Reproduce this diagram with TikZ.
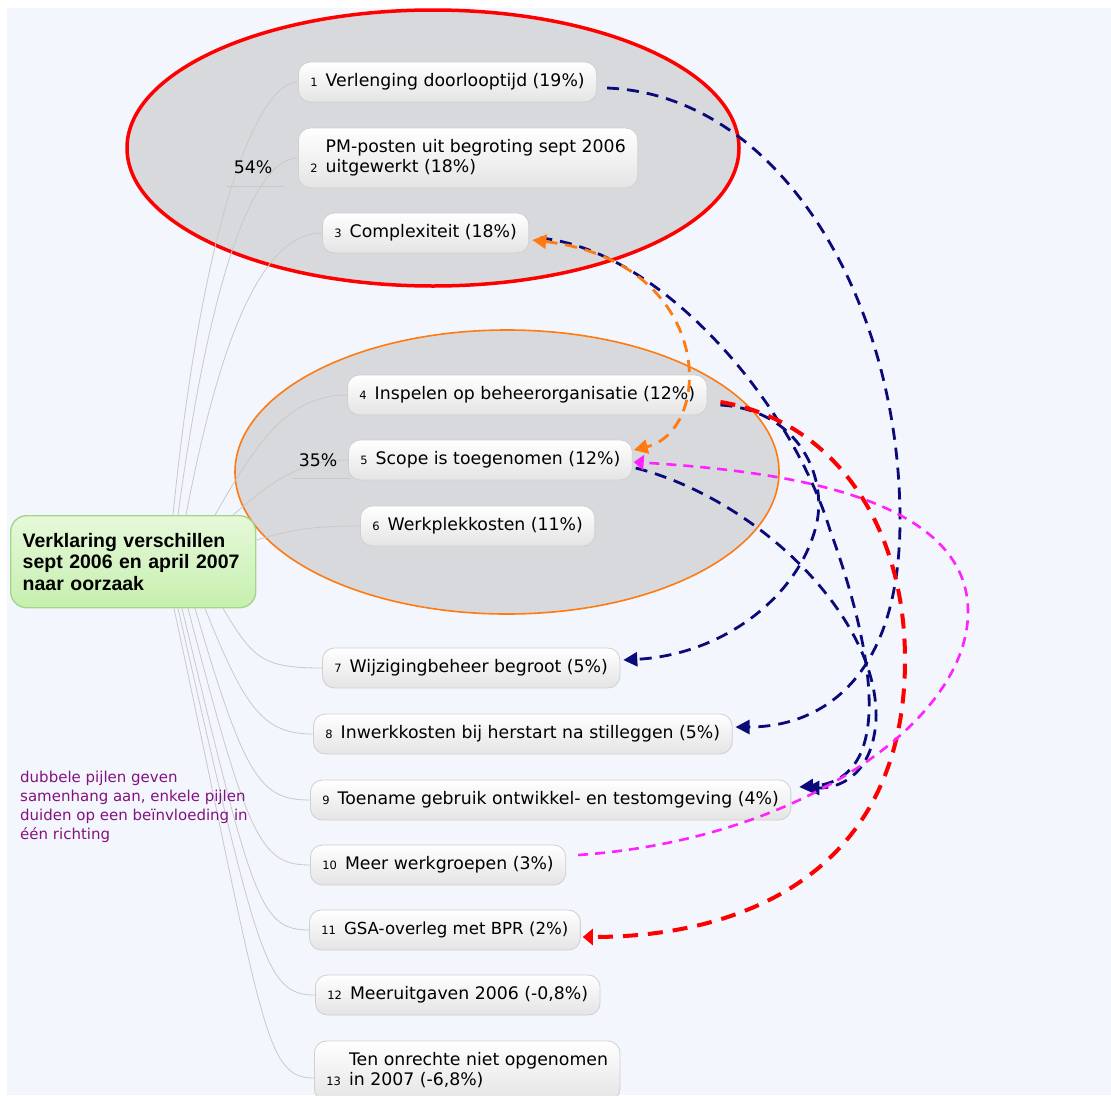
\documentclass[tikz,border=0pt]{standalone}
\usepackage{fontspec}
\setmainfont{DejaVu Sans}
\newfontfamily\rootfont{Liberation Sans}
\usetikzlibrary{arrows.meta}
\definecolor{mapback}{HTML}{F3F6FD}
\definecolor{blobfill}{HTML}{D8D9DD}
\definecolor{branchgray}{HTML}{C9C9C9}
\definecolor{itemedge}{HTML}{CFCFCF}
\definecolor{itemshade}{HTML}{E4E4E4}
\definecolor{rootfilltop}{HTML}{E6F9DA}
\definecolor{rootfillbot}{HTML}{C6EFAE}
\definecolor{rootedge}{HTML}{A2D68A}
\definecolor{linknavy}{HTML}{0A0A78}
\definecolor{linkorange}{HTML}{FF7A10}
\definecolor{linkmagenta}{HTML}{FF22FF}
\definecolor{linkred}{HTML}{FF0000}
\definecolor{legendpurple}{HTML}{84127E}
\newcommand{\itemnum}[1]{{\fontsize{11.5}{13}\selectfont #1}\hspace{8pt}}

\begin{document}
\begin{tikzpicture}[
  x=1pt,
  y=-1pt,
  every node/.style={font=\fontsize{17.3}{20}\selectfont, text=black},
  item/.style={draw=itemedge, line width=0.8pt, rounded corners=12pt,
    top color=white, bottom color=itemshade, inner xsep=12pt,
    inner ysep=10pt, minimum height=40pt, anchor=west},
  rootbox/.style={draw=rootedge, line width=1.4pt, rounded corners=16pt,
    top color=rootfilltop, bottom color=rootfillbot, inner xsep=12pt,
    text width=221pt, minimum height=92pt, align=left, anchor=north west,
    font=\rootfont\bfseries\fontsize{19.5}{21.5}\selectfont},
  branch/.style={branchgray, line width=0.8pt},
  share/.style={inner sep=1pt},
  link/.style={line width=2.8pt, dash pattern=on 12pt off 8pt},
  navylink/.style={link, linknavy, -{Triangle[length=14pt, width=14pt]}},
  orangelink/.style={link, linkorange,
    {Triangle[length=14pt, width=14pt]}-{Triangle[length=14pt, width=14pt]}},
  redlink/.style={linkred, line width=4pt, dash pattern=on 15pt off 10pt,
    -{Triangle[length=10pt, width=16pt]}},
  magentalink/.style={linkmagenta, line width=2.6pt,
    dash pattern=on 10pt off 7pt, -{Triangle[length=10pt, width=15pt]}}
]
  % ---- page and background ---------------------------------------------
  \useasboundingbox (0,0) rectangle (1111,1095);
  \fill[white] (0,0) rectangle (1111,1095);
  \fill[mapback] (7,8) rectangle (1111,1095);

  % ---- the two groups --------------------------------------------------
  \filldraw[blobfill, draw=linkred, line width=3.5pt]
    (433,148) ellipse [x radius=306, y radius=138];
  \filldraw[blobfill, draw=linkorange, line width=1.6pt]
    (507,472) ellipse [x radius=272, y radius=142];

  % ---- central topic ---------------------------------------------------
  \node[rootbox] (root) at (10,515)
    {Verklaring verschillen\\sept 2006 en april 2007\\naar oorzaak};

  % ---- the causes ------------------------------------------------------
  \node[item] (n1) at (298,82) {\itemnum{1}Verlenging doorlooptijd (19\%)};
  \node[item] (n2) at (298,158) {\itemnum{2}\begin{tabular}[b]{@{}l@{}}%
    PM-posten uit begroting sept 2006\\uitgewerkt (18\%)\end{tabular}};
  \node[item] (n3) at (322,233) {\itemnum{3}Complexiteit (18\%)};
  \node[item] (n4) at (347,395) {\itemnum{4}Inspelen op beheerorganisatie (12\%)};
  \node[item] (n5) at (348,460) {\itemnum{5}Scope is toegenomen (12\%)};
  \node[item] (n6) at (360,526) {\itemnum{6}Werkplekkosten (11\%)};
  \node[item] (n7) at (322,668) {\itemnum{7}Wijzigingbeheer begroot (5\%)};
  \node[item] (n8) at (313,734) {\itemnum{8}Inwerkkosten bij herstart na stilleggen (5\%)};
  \node[item] (n9) at (310,800) {\itemnum{9}Toename gebruik ontwikkel- en testomgeving (4\%)};
  \node[item] (n10) at (310,865) {\itemnum{10}Meer werkgroepen (3\%)};
  \node[item, font=\fontsize{16.6}{20}\selectfont] (n11) at (309,930)
    {\itemnum{11}GSA-overleg met BPR (2\%)};
  \node[item] (n12) at (315,995) {\itemnum{12}Meeruitgaven 2006 (-0,8\%)};
  \node[item] (n13) at (314,1071) {\itemnum{13}\begin{tabular}[b]{@{}l@{}}%
    Ten onrechte niet opgenomen\\in 2007 (-6,8\%)\end{tabular}};

  % ---- branches from the central topic -----------------------------------
  \draw[branch] ([xshift=163pt]root.north west)
    .. controls +(30,-300) and +(-40,0) .. (n1.west);
  \draw[branch] ([xshift=168pt]root.north west)
    .. controls +(35,-260) and +(-40,0) .. (n2.west);
  \draw[branch] ([xshift=176pt]root.north west)
    .. controls +(40,-210) and +(-50,0) .. (n3.west);
  \draw[branch] ([xshift=205pt]root.north west)
    .. controls +(40,-70) and +(-60,0) .. (n4.west);
  \draw[branch] ([xshift=223pt]root.north west)
    .. controls +(35,-30) and +(-50,0) .. (n5.west);
  \draw[branch] ([yshift=-25pt]root.north east)
    .. controls +(40,-12) and +(-40,0) .. (n6.west);
  \draw[branch] ([xshift=213pt]root.south west)
    .. controls +(30,50) and +(-60,0) .. (n7.west);
  \draw[branch] ([xshift=195pt]root.south west)
    .. controls +(40,100) and +(-50,0) .. (n8.west);
  \draw[branch] ([xshift=185pt]root.south west)
    .. controls +(50,170) and +(-50,0) .. (n9.west);
  \draw[branch] ([xshift=178pt]root.south west)
    .. controls +(60,230) and +(-50,0) .. (n10.west);
  \draw[branch] ([xshift=172pt]root.south west)
    .. controls +(70,290) and +(-50,0) .. (n11.west);
  \draw[branch] ([xshift=168pt]root.south west)
    .. controls +(80,350) and +(-50,0) .. (n12.west);
  \draw[branch] ([xshift=164pt]root.south west)
    .. controls +(90,420) and +(-50,0) .. ([yshift=-7pt]n13.west);

  % ---- shares of the two groups ------------------------------------------
  \node[share] (share54) at (253,167) {54\%};
  \draw[branch] (226,186) -- (284,186);
  \node[share] (share35) at (318,460) {35\%};
  \draw[branch] (292,478) -- (350,478);

  % ---- relations between the causes --------------------------------------
  \draw[navylink] ([shift={(10,6)}]n1.east)
    .. controls (780,95) and (900,300) .. (900,520)
    .. controls (900,680) and (820,727) .. ([shift={(3,-7)}]n8.east);
  \draw[navylink] ([shift={(11,5)}]n3.east)
    .. controls (660,250) and (790,400) .. (830,530)
    .. controls (870,640) and (900,780) .. ([shift={(8,-13)}]n9.east);
  \draw[navylink] ([shift={(3,8)}]n5.east)
    .. controls (760,500) and (880,620) .. (876,720)
    .. controls (873,770) and (845,788) .. ([shift={(14,-12)}]n9.east);
  \draw[navylink] ([shift={(13,10)}]n4.east)
    .. controls (800,410) and (830,480) .. (815,530)
    .. controls (795,600) and (720,655) .. ([shift={(3,-8)}]n7.east);
  \draw[redlink] ([shift={(13,7)}]n4.east)
    .. controls (830,420) and (905,520) .. (905,660)
    .. controls (905,860) and (760,937) .. ([shift={(2,7)}]n11.east);
  \draw[magentalink] ([shift={(12,-10)}]n10.east)
    .. controls (800,840) and (970,720) .. (968,610)
    .. controls (966,490) and (760,470) .. ([shift={(1,2)}]n5.east);
  \draw[orangelink] ([shift={(3,7)}]n3.east)
    .. controls (715,262) and (715,430) .. ([shift={(1,-10)}]n5.east);

  % ---- legend ------------------------------------------------------------
  \node[anchor=north west, inner sep=0pt, align=left, text=legendpurple,
    font=\fontsize{15}{19}\selectfont] (legend) at (20,771)
    {dubbele pijlen geven\\samenhang aan, enkele pijlen\\duiden op een beïnvloeding in\\één richting};
\end{tikzpicture}
\end{document}
